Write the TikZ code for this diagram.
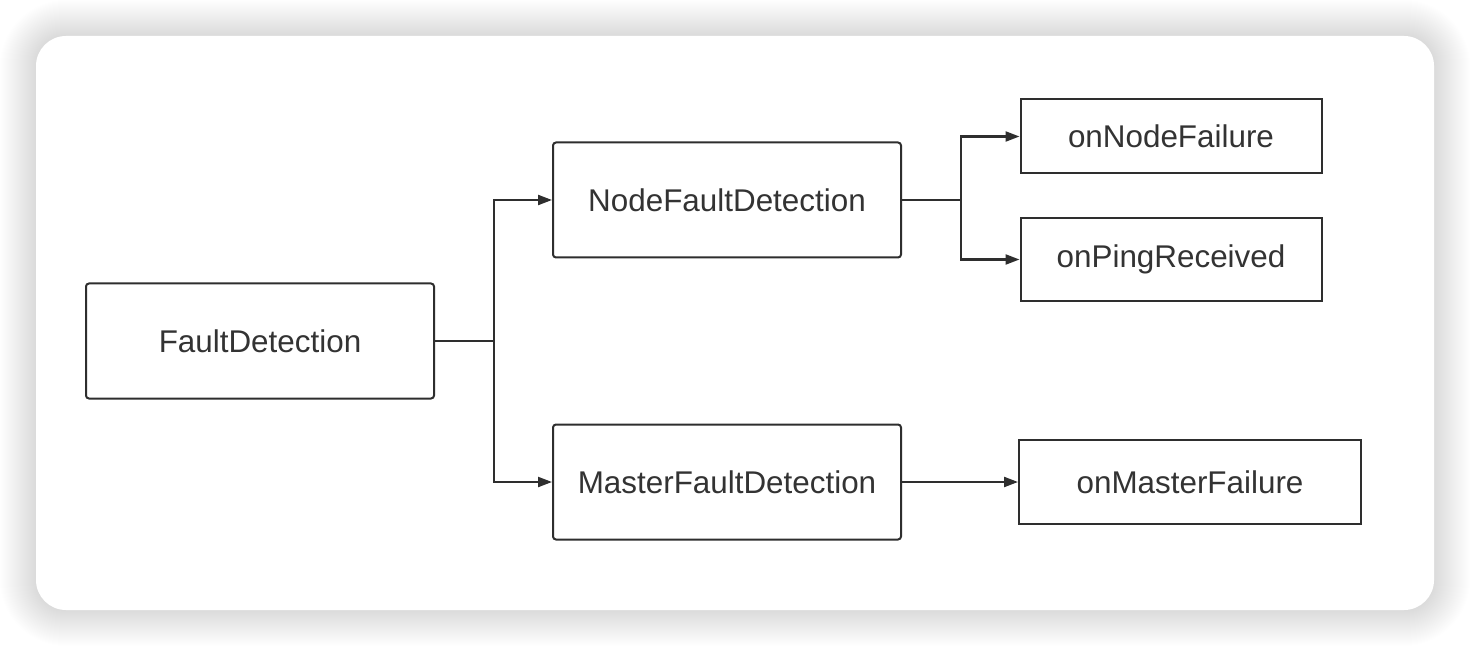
\documentclass[tikz,border=0pt]{standalone}
\usepackage{fontspec}
\setmainfont{Liberation Sans}
\usetikzlibrary{arrows.meta}

\definecolor{inkgray}{HTML}{333333}
\definecolor{linegray}{HTML}{2E2E2E}

\begin{document}
\begin{tikzpicture}[
        x=0.5pt, y=-0.5pt,
        grow'=east, % Tree grows left to right
        level 1/.style = {level distance=233.5pt, sibling distance=141pt},
        level 2/.style = {level distance=222pt, sibling distance=61.5pt},
        edge from parent/.style = {draw=linegray, line width=1.1pt, -{Triangle[length=7pt, width=5pt]}},
        edge from parent path = {(\tikzparentnode.east) -- ++(29.5pt,0) |- (\tikzchildnode.west)},
        cell/.style = {draw=linegray, line width=1pt, rounded corners=1.5pt, minimum width=174pt, minimum height=57.5pt,
                text=inkgray, font=\fontsize{15.7}{18}\selectfont}, % Module boxes
        hook/.style = {draw=linegray, line width=1pt, minimum width=150.5pt, minimum height=37pt,
                text=inkgray, font=\fontsize{15.7}{18}\selectfont}, % Callback boxes
    ]

    \useasboundingbox (0,0) rectangle (1470,646);

    % Card shadow and card
    \foreach \s [evaluate=\s as \r using 15+0.5*\s] in {1,...,36}
        \fill[black, opacity=0.0036, rounded corners=\r pt] (36-\s,36-\s) rectangle (1434+\s,610+\s);
    \fill[white, rounded corners=15pt] (36,36) rectangle (1434,610);

    \node[cell] (fd) at (260,341) {FaultDetection}
    child {node[cell] (nfd) {NodeFaultDetection}
            child {node[hook, yshift=1pt] (onf) {onNodeFailure}}
            child {node[hook, minimum height=41.5pt, yshift=1pt] (opr) {onPingReceived}}}
    child {node[cell] (mfd) {MasterFaultDetection}
            child[level distance=231.5pt] {node[hook, minimum width=171pt, minimum height=42pt] (omf) {onMasterFailure}}};
\end{tikzpicture}
\end{document}
